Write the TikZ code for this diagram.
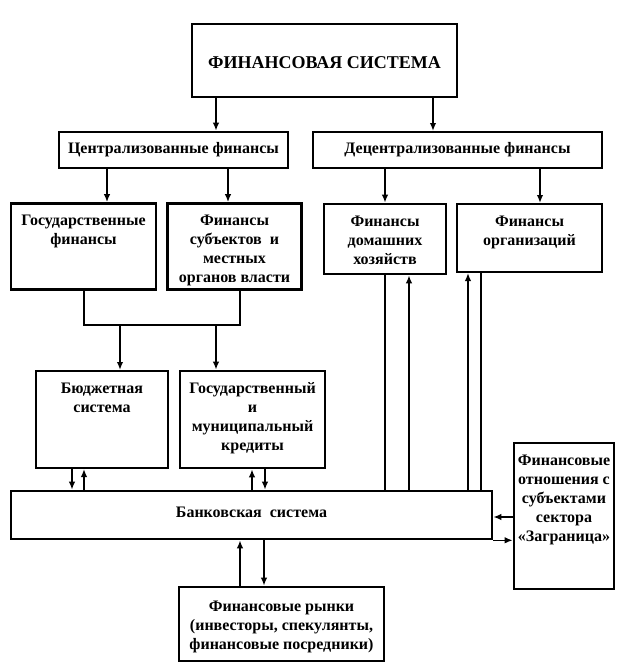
\documentclass[tikz,border=0pt]{standalone}
\usepackage{fontspec}
\setmainfont{Liberation Serif}
\usetikzlibrary{arrows.meta}

\begin{document}
\begin{tikzpicture}[x=1pt,y=-1pt,
    box/.style={draw, line width=2.6pt, inner sep=0pt},
    thinbox/.style={draw, line width=2pt, inner sep=0pt},
    txt/.style={inner sep=2pt, align=center, font=\bfseries\fontsize{16}{19}\selectfont},
    link/.style={line width=1.6pt},
    >={Latex[length=8pt,width=6.5pt]}]
    \useasboundingbox (0,0) rectangle (616,672);
    \node[thinbox, minimum width=265, minimum height=73] (top) at (324.5,60.5) {};
    \node[txt, font=\bfseries\fontsize{18}{21}\selectfont] (toptxt) at ([yshift=-2pt]top.center) {ФИНАНСОВАЯ СИСТЕМА};
    \node[box, minimum width=229, minimum height=36] (cent) at (173.5,150) {};
    \node[txt] (centtxt) at (cent) {Централизованные финансы};
    \node[thinbox, minimum width=289, minimum height=36] (decent) at (457.5,150) {};
    \node[txt] (decenttxt) at (decent) {Децентрализованные финансы};
    \node[box, minimum width=145, minimum height=86] (gos) at (83.5,246.5) {};
    \node[txt, anchor=north] (gostxt) at ([yshift=-11pt]gos.north) {Государственные\\финансы};
    \node[box, minimum width=134, minimum height=86] (subj) at (234.5,246.5) {};
    \node[txt, anchor=north] (subjtxt) at ([yshift=-11pt]subj.north) {Финансы\\субъектов\ \ и\\местных\\органов власти};
    \node[box, minimum width=122, minimum height=70] (dom) at (385,239) {};
    \node[txt, anchor=north] (domtxt) at ([yshift=-11pt]dom.north) {Финансы\\домашних\\хозяйств};
    \node[thinbox, minimum width=145, minimum height=68] (org) at (529.5,238) {};
    \node[txt, anchor=north] (orgtxt) at ([yshift=-11pt]org.north) {Финансы\\организаций};
    \node[thinbox, minimum width=132, minimum height=97] (budg) at (102,419.5) {};
    \node[txt, anchor=north] (budgtxt) at ([yshift=-11pt]budg.north) {Бюджетная\\система};
    \node[box, minimum width=145, minimum height=97] (cred) at (252.5,419.5) {};
    \node[txt, anchor=north] (credtxt) at ([yshift=-11pt]cred.north) {Государственный\\и\\муниципальный\\кредиты};
    \node[box, minimum width=481, minimum height=48] (bank) at (251.5,515) {};
    \node[txt] (banktxt) at ([yshift=3pt]bank.center) {Банковская\ \ система};
    \node[box, minimum width=100, minimum height=146] (abroad) at (564,516) {};
    \node[txt, anchor=north] (abroadtxt) at ([yshift=-11pt]abroad.north) {Финансовые\\отношения с\\субъектами\\сектора\\«Заграница»};
    \node[box, minimum width=205, minimum height=74] (mkt) at (281.5,624) {};
    \node[txt] (mkttxt) at ([yshift=-3pt]mkt.center) {Финансовые рынки\\(инвесторы, спекулянты,\\финансовые посредники)};
    \coordinate (bus) at (0,325);
    \draw[link,->] (216,0 |- top.south) -- (216,0 |- cent.north);
    \draw[link,->] (433,0 |- top.south) -- (433,0 |- decent.north);
    \draw[link,->] (107,0 |- cent.south) -- (107,0 |- gos.north);
    \draw[link,->] (228,0 |- cent.south) -- (228,0 |- subj.north);
    \draw[link,->] (385,0 |- decent.south) -- (385,0 |- dom.north);
    \draw[link,->] (540,0 |- decent.south) -- (540,0 |- org.north);
    \draw[link] (84,0 |- gos.south) -- (84,0 |- bus) -- (240,0 |- bus) -- (240,0 |- subj.south);
    \draw[link,->] (120,0 |- bus) -- (120,0 |- budg.north);
    \draw[link,->] (216,0 |- bus) -- (216,0 |- cred.north);
    \draw[link,->] (72,0 |- budg.south) -- (72,0 |- bank.north);
    \draw[link,->] (84,0 |- bank.north) -- (84,0 |- budg.south);
    \draw[link,->] (252,0 |- bank.north) -- (252,0 |- cred.south);
    \draw[link,->] (265,0 |- cred.south) -- (265,0 |- bank.north);
    \draw[link] (385,0 |- dom.south) -- (385,0 |- bank.north);
    \draw[link,->] (409,0 |- bank.north) -- (409,0 |- dom.south);
    \draw[link,->] (468,0 |- bank.north) -- (468,0 |- org.south);
    \draw[link] (481,0 |- org.south) -- (481,0 |- bank.north);
    \draw[link,->] (abroad.west |- 0,517) -- (bank.east |- 0,517);
    \draw[link,->] (bank.south east) -- (abroad.west |- bank.south);
    \draw[link,->] (240,0 |- mkt.north) -- (240,0 |- bank.south);
    \draw[link,->] (264,0 |- bank.south) -- (264,0 |- mkt.north);
\end{tikzpicture}
\end{document}
